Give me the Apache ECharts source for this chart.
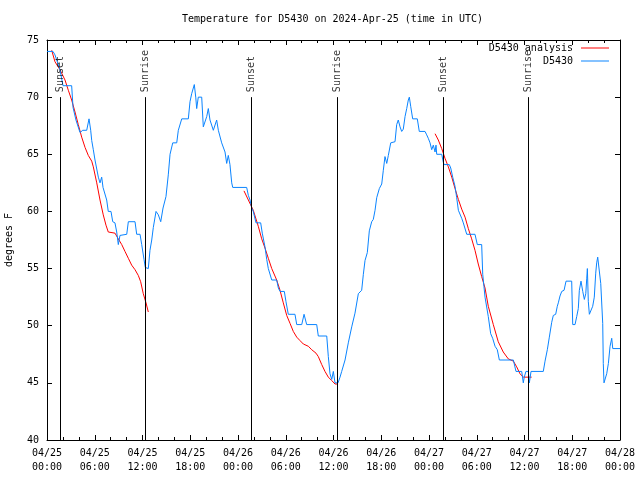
<!DOCTYPE html>
<html><head><meta charset="utf-8">
<script src="https://cdn.jsdelivr.net/npm/echarts@6/dist/echarts.min.js"></script>
<style>html,body{margin:0;padding:0;background:#fff}#c{width:640px;height:480px}</style>
</head><body><div id="c"></div>
<script>
// x values are hours since 2024-04-25 00:00 UTC
const xTickLabels = ['04/25\n00:00','04/25\n06:00','04/25\n12:00','04/25\n18:00','04/26\n00:00','04/26\n06:00','04/26\n12:00','04/26\n18:00','04/27\n00:00','04/27\n06:00','04/27\n12:00','04/27\n18:00','04/28\n00:00'];

const obsTime = [0,0.75,1.0,1.63,2.01,3.1,3.27,3.64,4.15,4.49,
4.99,5.28,5.49,5.62,5.82,6.03,6.45,6.66,6.87,7.04,
7.5,7.7,8.04,8.26,8.54,8.76,8.96,9.17,9.26,10.02,
10.22,11.06,11.27,11.69,11.9,12.19,12.35,12.73,12.94,13.16,
13.36,13.7,13.99,14.29,14.58,14.95,15.24,15.46,15.8,16.3,
16.5,16.93,17.76,17.97,18.18,18.51,18.69,18.81,19.01,19.44,
19.64,20.07,20.27,20.48,20.9,21.32,21.53,21.95,22.15,22.37,
22.58,22.78,22.99,23.21,23.34,25.09,25.3,25.51,25.72,25.92,
26.26,26.85,27.05,27.39,27.61,27.81,28.24,28.86,29.07,29.28,
29.82,30.03,30.32,31.16,31.38,32.01,32.3,32.63,33.89,34.09,
35.15,35.35,35.56,35.78,35.98,36.19,36.57,36.82,37.03,37.45,
37.86,38.29,38.7,39.12,39.54,39.75,39.96,40.25,40.5,40.8,
41.0,41.22,41.43,41.76,42.06,42.26,42.47,42.69,42.89,43.19,
43.73,43.94,44.14,44.36,44.57,44.77,44.99,45.2,45.4,45.53,
45.7,45.95,46.53,46.78,47.5,47.71,47.91,48.13,48.34,48.54,
48.76,48.88,48.97,49.6,49.8,49.89,50.55,50.73,50.98,51.27,
51.48,51.69,52.11,52.31,52.74,53.78,54.07,54.62,54.75,54.91,
55.04,55.45,55.75,56.0,56.3,56.58,56.84,58.6,58.93,59.65,
59.85,59.97,60.18,60.48,60.61,60.82,62.36,62.58,62.87,63.12,
63.42,63.62,63.92,64.12,64.25,64.46,64.68,64.97,65.22,65.93,
66.06,66.35,66.56,66.76,66.89,67.1,67.32,67.52,67.7,67.82,
67.9,68.02,68.15,68.36,68.57,68.77,68.95,69.07,69.2,69.4,
69.58,69.83,69.9,69.99,70.2,70.33,70.54,70.75,70.96,71.09,
72];
const obsTemp = [74,74,73.7,72.4,71,71,69.1,68,66.9,67.1,
67.1,68.1,67.1,66.2,65.4,64.5,63,62.5,63,62.1,
61,60,60,59.1,59,58.2,57.1,57.9,58,58,
59.1,59.1,58,58,57.1,55.8,55.1,55,56.6,57.5,
58.6,60,59.7,59.1,60.3,61.3,63.2,65,66,66,
67.1,68.1,68.1,69.6,70.3,71.1,70,69,70,70,
67.4,68.3,69,68,67.1,68,67.1,66,66.1,65.2,
64.2,64.9,64.1,62.5,62.1,62.1,61.4,61,60.3,60,
59,59,58.1,56.9,55.8,55,54,54,53.3,53,
53,52.1,51,51,50.1,50.1,51,50.1,50.1,49.1,
49.1,47.3,45.8,45.3,46,45,45,45.5,46,47,
48.5,49.9,51.1,52.8,53.1,54.5,55.7,56.4,58.3,59.1,
59.3,60.1,61.2,62,62.4,63.6,64.8,64.2,64.9,66,
66.1,67.6,68,67.4,67,67.2,68.3,69,69.75,70,
69.2,68.1,68.1,67,67,66.7,66.4,66,65.4,65.8,
65.2,65.8,65,65,64.3,64.1,64.1,63.8,63,62.2,
61.2,60.1,59.4,59,58,58,57.1,57.1,54.5,53.4,
52.5,50.8,49.3,48.9,48.2,47.9,47,47,46,46,
45,45.5,46,46,45,46,46,46.9,47.9,49,
50.3,50.9,51,51.7,52,52.6,53,53.1,53.9,53.9,
50.1,50.1,50.8,51.5,53.1,53.9,53,52.3,52.8,54.1,
55,52.1,51,51,51.7,52.5,54.6,55.5,56,56,
53.7,50.2,46.7,45,45,45.8,46.7,48.2,48.9,48,
48];

const anaTime1 = [0.59,1.0,1.63,2.26,2.68,3.1,3.52,3.93,4.36,4.78,5.19,5.62,5.82,6.25,6.66,7.07,7.41,7.7,8.54,8.96,9.39,9.8,10.22,10.64,11.06,11.47,11.77,12.1,12.44,12.73];
const anaTemp1 = [74.1,73.1,72.4,71.5,70.6,69.75,68.7,67.6,66.5,65.6,64.9,64.4,63.9,62.5,61,59.7,58.8,58.2,58.1,57.6,57.1,56.5,55.9,55.3,54.9,54.4,53.85,52.8,52,51.2];
const anaTime2 = [24.75,25.3,25.92,26.55,26.98,27.39,27.81,28.24,28.86,29.28,29.69,30.12,30.54,30.95,31.38,31.79,32.21,32.84,33.26,33.8,34.09,34.52,34.93,35.35,35.78,36.19,36.57];
const anaTemp2 = [61.8,61,60.1,58.7,57.6,56.8,55.9,55,54,53.1,52,50.9,50.2,49.5,49,48.7,48.4,48.2,47.9,47.6,47.3,46.6,46,45.5,45.2,44.9,44.9];
const anaTime3 = [48.76,49.17,49.6,50.01,50.43,50.86,51.27,51.69,52.11,52.53,52.94,53.36,53.78,54.19,54.62,55.04,55.45,56.08,56.7,57.33,57.96,58.6,59.02,59.43,59.85,60.9];
const anaTemp3 = [66.8,66.25,65.5,64.65,63.9,63,62,61.05,60.2,59.5,58.5,57.6,56.6,55.4,54.3,53.3,51.7,50.1,48.6,47.7,47.1,46.9,46.4,45.8,45.5,45.5];

const sunHours = [1.72, 12.4, 25.72, 36.5, 49.83, 60.48];
const sunNames = ['Sunset','Sunrise','Sunset','Sunrise','Sunset','Sunrise'];
const sunLineTop = 70;

const FONT = 'DejaVu Sans Mono';
const obsData = obsTime.map((t,i)=>[t, obsTemp[i]]);
const anaData = [];
[[anaTime1,anaTemp1],[anaTime2,anaTemp2],[anaTime3,anaTemp3]].forEach((seg,k)=>{
  if (k>0) anaData.push([seg[0][0]-0.01,'-']);
  seg[0].forEach((t,i)=>anaData.push([t, seg[1][i]]));
});

const txt = {fontFamily: FONT, fontSize: 10, color: '#000'};
function xAx(pos, showLabel){
  return {type:'value', position:pos, min:0, max:72, interval:6,
    axisLine:{show:true, onZero:false, lineStyle:{color:'#000', width:1}},
    axisTick:{show:true, inside:true, length:5, lineStyle:{color:'#000'}},
    minorTick:{show:true, splitNumber:3, length:3, lineStyle:{color:'#000'}},
    splitLine:{show:false},
    axisLabel:{show:showLabel, ...txt, lineHeight:14, margin:6,
      formatter:v=>xTickLabels[Math.round(v/6)]}};
}
function yAx(pos, showLabel){
  return {type:'value', position:pos, min:40, max:75, interval:5,
    axisLine:{show:true, onZero:false, lineStyle:{color:'#000', width:1}},
    axisTick:{show:true, inside:true, length:5, lineStyle:{color:'#000'}},
    splitLine:{show:false},
    axisLabel:{show:showLabel, ...txt, margin:8},
    name: showLabel ? 'degrees F' : '', nameLocation:'middle', nameGap:33,
    nameTextStyle:{...txt}};
}

const chart = echarts.init(document.getElementById('c'), null, {renderer:'canvas'});
chart.setOption({
  animation:false,
  backgroundColor:'#fff',
  title:{text:'Temperature for D5430 on 2024-Apr-25 (time in UTC)', left:182, top:14, padding:0,
    textStyle:{...txt, fontWeight:'normal'}},
  grid:{left:47, right:20, top:40, bottom:40, containLabel:false, outerBoundsMode:'none'},
  xAxis:[xAx('bottom', true), xAx('top', false)],
  yAxis:[yAx('left', true), yAx('right', false)],
  legend:[
    {data:['D5430 analysis'], right:31, top:43, padding:0, align:'right', icon:'rect', itemWidth:28, itemHeight:1,
      textStyle:{...txt, padding:[0,3,0,0]}},
    {data:['D5430'], right:31, top:56, padding:0, align:'right', icon:'rect', itemWidth:28, itemHeight:1,
      textStyle:{...txt, padding:[0,3,0,0]}}
  ],
  series:[
    {name:'D5430', type:'line', data:obsData, showSymbol:false, symbol:'none',
      lineStyle:{color:'#0a84ff', width:1}, itemStyle:{color:'#0a84ff'}, z:3},
    {name:'D5430 analysis', type:'line', data:anaData, showSymbol:false, symbol:'none', connectNulls:false,
      lineStyle:{color:'#ff0000', width:1}, itemStyle:{color:'#ff0000'}, z:2},
    {name:'sun', type:'scatter', symbolSize:0, silent:true, z:4,
      data: sunHours.map((h,i)=>({name:sunNames[i], value:[h, sunLineTop]})),
      label:{show:true, formatter:'{b}', position:'top', distance:5, rotate:90, align:'left', verticalAlign:'middle', ...txt},
      markLine:{silent:true, symbol:['none','none'], label:{show:false},
        lineStyle:{color:'#000', width:1, type:'solid'},
        emphasis:{disabled:true},
        data: sunHours.map(h=>[{coord:[h,40]},{coord:[h,sunLineTop]}])}
    }
  ]
});
</script>
</body></html>
